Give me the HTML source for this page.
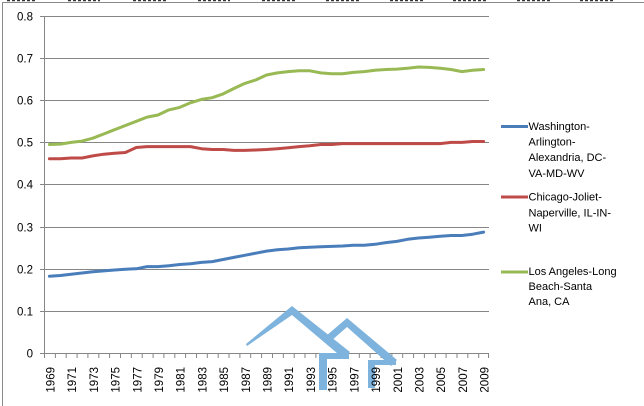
<!DOCTYPE html>
<html><head><meta charset="utf-8"><style>
html,body{margin:0;padding:0;background:#fff;}
svg{display:block;}
text{font-family:"Liberation Sans",Arial,sans-serif;fill:#000;}
</style></head><body>
<svg width="644" height="406" viewBox="0 0 644 406" xmlns="http://www.w3.org/2000/svg">
<rect x="0" y="0" width="644" height="406" fill="#fff"/>
<!-- clipped remnants at top edge -->
<g stroke="#333" stroke-width="1.6" stroke-dasharray="3 2">
<line x1="7" y1="0.5" x2="37" y2="0.5"/><line x1="68" y1="0.5" x2="100" y2="0.5"/>
<line x1="133" y1="0.5" x2="166" y2="0.5"/><line x1="198" y1="0.5" x2="230" y2="0.5"/>
<line x1="262" y1="0.5" x2="295" y2="0.5"/><line x1="326" y1="0.5" x2="359" y2="0.5"/>
<line x1="390" y1="0.5" x2="423" y2="0.5"/><line x1="453" y1="0.5" x2="487" y2="0.5"/>
<line x1="517" y1="0.5" x2="552" y2="0.5"/><line x1="580" y1="0.5" x2="613" y2="0.5"/>
</g>
<!-- frame -->
<line x1="2" y1="2.5" x2="644" y2="2.5" stroke="#8a8a8a" stroke-width="1"/>
<line x1="2.5" y1="2" x2="2.5" y2="406" stroke="#8a8a8a" stroke-width="1"/>

<!-- gridlines -->
<g stroke="#868686" stroke-width="1">
<line x1="40" y1="16.5" x2="489" y2="16.5"/>
<line x1="40" y1="58.5" x2="489" y2="58.5"/>
<line x1="40" y1="100.5" x2="489" y2="100.5"/>
<line x1="40" y1="142.5" x2="489" y2="142.5"/>
<line x1="40" y1="184.5" x2="489" y2="184.5"/>
<line x1="40" y1="227.5" x2="489" y2="227.5"/>
<line x1="40" y1="269.5" x2="489" y2="269.5"/>
<line x1="40" y1="311.5" x2="489" y2="311.5"/>
<line x1="40" y1="353.5" x2="489" y2="353.5"/>
<line x1="44.5" y1="16" x2="44.5" y2="358"/>
</g>
<!-- x ticks -->
<g stroke="#868686" stroke-width="1">
<path d="M55.4 353v5M66.2 353v5M77.1 353v5M87.9 353v5M98.8 353v5M109.6 353v5M120.5 353v5M131.3 353v5M142.2 353v5M153.1 353v5M163.9 353v5M174.8 353v5M185.6 353v5M196.5 353v5M207.3 353v5M218.2 353v5M229 353v5M239.9 353v5M250.7 353v5M261.6 353v5M272.5 353v5M283.3 353v5M294.2 353v5M305 353v5M315.9 353v5M326.7 353v5M337.6 353v5M348.4 353v5M359.3 353v5M370.1 353v5M381 353v5M391.9 353v5M402.7 353v5M413.6 353v5M424.4 353v5M435.3 353v5M446.1 353v5M457 353v5M467.8 353v5M478.7 353v5M488.5 353v5"/>
</g>

<!-- y labels -->
<g font-size="11.5" text-anchor="end">
<text x="33" y="20.5">0.8</text>
<text x="33" y="62.5">0.7</text>
<text x="33" y="104.5">0.6</text>
<text x="33" y="146.5">0.5</text>
<text x="33" y="188.5">0.4</text>
<text x="33" y="231.5">0.3</text>
<text x="33" y="273.5">0.2</text>
<text x="33" y="315.5">0.1</text>
<text x="33" y="357.5">0</text>
</g>

<!-- watermark -->
<g fill="#7db3dd">
<polygon points="246,344 292,306 350,352 344,359 292,315 247,346"/>
<polygon points="326,336 347,318 397,360 391,366 347,327 331,341"/>
<rect x="319" y="353" width="8" height="37"/>
<rect x="319" y="353" width="30" height="6"/>
<rect x="368" y="360" width="7" height="28"/>
<rect x="368" y="360" width="28" height="5"/>
</g>

<!-- x labels -->
<g font-size="11.5" text-anchor="end">
<text transform="translate(54.4,367) rotate(-90)">1969</text>
<text transform="translate(76.1,367) rotate(-90)">1971</text>
<text transform="translate(97.8,367) rotate(-90)">1973</text>
<text transform="translate(119.6,367) rotate(-90)">1975</text>
<text transform="translate(141.3,367) rotate(-90)">1977</text>
<text transform="translate(163,367) rotate(-90)">1979</text>
<text transform="translate(184.7,367) rotate(-90)">1981</text>
<text transform="translate(206.4,367) rotate(-90)">1983</text>
<text transform="translate(228.1,367) rotate(-90)">1985</text>
<text transform="translate(249.8,367) rotate(-90)">1987</text>
<text transform="translate(271.5,367) rotate(-90)">1989</text>
<text transform="translate(293.2,367) rotate(-90)">1991</text>
<text transform="translate(314.9,367) rotate(-90)">1993</text>
<text transform="translate(336.6,367) rotate(-90)">1995</text>
<text transform="translate(358.3,367) rotate(-90)">1997</text>
<text transform="translate(380,367) rotate(-90)">1999</text>
<text transform="translate(401.8,367) rotate(-90)">2001</text>
<text transform="translate(423.5,367) rotate(-90)">2003</text>
<text transform="translate(445.2,367) rotate(-90)">2005</text>
<text transform="translate(466.9,367) rotate(-90)">2007</text>
<text transform="translate(488.6,367) rotate(-90)">2009</text>
</g>

<!-- series -->
<g fill="none" stroke-width="3" stroke-linejoin="round" stroke-linecap="round">
<polyline stroke="#4a7ebb" points="49.4,276.3 60.3,275.5 71.1,274.2 82,273 92.8,271.7 103.7,270.9 114.6,270 125.4,269.2 136.3,268.8 147.1,266.6 158,266.6 168.8,265.8 179.7,264.5 190.5,263.7 201.4,262.4 212.2,261.6 223.1,259.5 233.9,257.4 244.8,255.3 255.7,253.2 266.5,251.1 277.4,249.8 288.2,249 299.1,247.7 309.9,247.3 320.8,246.8 331.6,246.4 342.5,246 353.3,245.2 364.2,245.2 375,244.3 385.9,242.6 396.8,241.4 407.6,239.3 418.5,238 429.3,237.2 440.2,236.3 451,235.5 461.9,235.5 472.7,234.2 483.6,232.1"/>
<polyline stroke="#be4b48" points="49.4,158.8 60.3,158.8 71.1,158 82,158 92.8,155.9 103.7,154.2 114.6,153.3 125.4,152.5 136.3,147.5 147.1,146.6 158,146.6 168.8,146.6 179.7,146.6 190.5,146.6 201.4,148.7 212.2,149.5 223.1,149.5 233.9,150.4 244.8,150.4 255.7,150 266.5,149.5 277.4,148.7 288.2,147.8 299.1,146.6 309.9,145.7 320.8,144.5 331.6,144.5 342.5,143.6 353.3,143.6 364.2,143.6 375,143.6 385.9,143.6 396.8,143.6 407.6,143.6 418.5,143.6 429.3,143.6 440.2,143.6 451,142.4 461.9,142.4 472.7,141.5 483.6,141.5"/>
<polyline stroke="#98b954" points="49.4,144.5 60.3,144.1 71.1,142.4 82,141.1 92.8,138.2 103.7,134 114.6,129.7 125.4,125.5 136.3,121.3 147.1,117.1 158,115 168.8,109.9 179.7,107.4 190.5,102.8 201.4,99.4 212.2,97.7 223.1,93.9 233.9,88.5 244.8,83.4 255.7,80 266.5,75 277.4,72.9 288.2,71.6 299.1,70.8 309.9,70.8 320.8,72.9 331.6,73.7 342.5,73.7 353.3,72.4 364.2,71.6 375,70.3 385.9,69.5 396.8,69.1 407.6,68.2 418.5,67 429.3,67.4 440.2,68.2 451,69.5 461.9,71.6 472.7,70.3 483.6,69.5"/>
</g>

<!-- legend -->
<g stroke-width="3">
<line x1="501" y1="126.5" x2="528" y2="126.5" stroke="#4a7ebb"/>
<line x1="501" y1="197" x2="528" y2="197" stroke="#be4b48"/>
<line x1="501" y1="272" x2="528" y2="272" stroke="#98b954"/>
</g>
<g font-size="11" fill="#111">
<text x="528.5" y="130">Washington-</text>
<text x="528.5" y="145.5">Arlington-</text>
<text x="528.5" y="161">Alexandria, DC-</text>
<text x="528.5" y="177">VA-MD-WV</text>
<text x="528.5" y="200.5">Chicago-Joliet-</text>
<text x="528.5" y="216.5">Naperville, IL-IN-</text>
<text x="528.5" y="231.5">WI</text>
<text x="528.5" y="275">Los Angeles-Long</text>
<text x="528.5" y="290">Beach-Santa</text>
<text x="528.5" y="305">Ana, CA</text>
</g>
</svg>
</body></html>
